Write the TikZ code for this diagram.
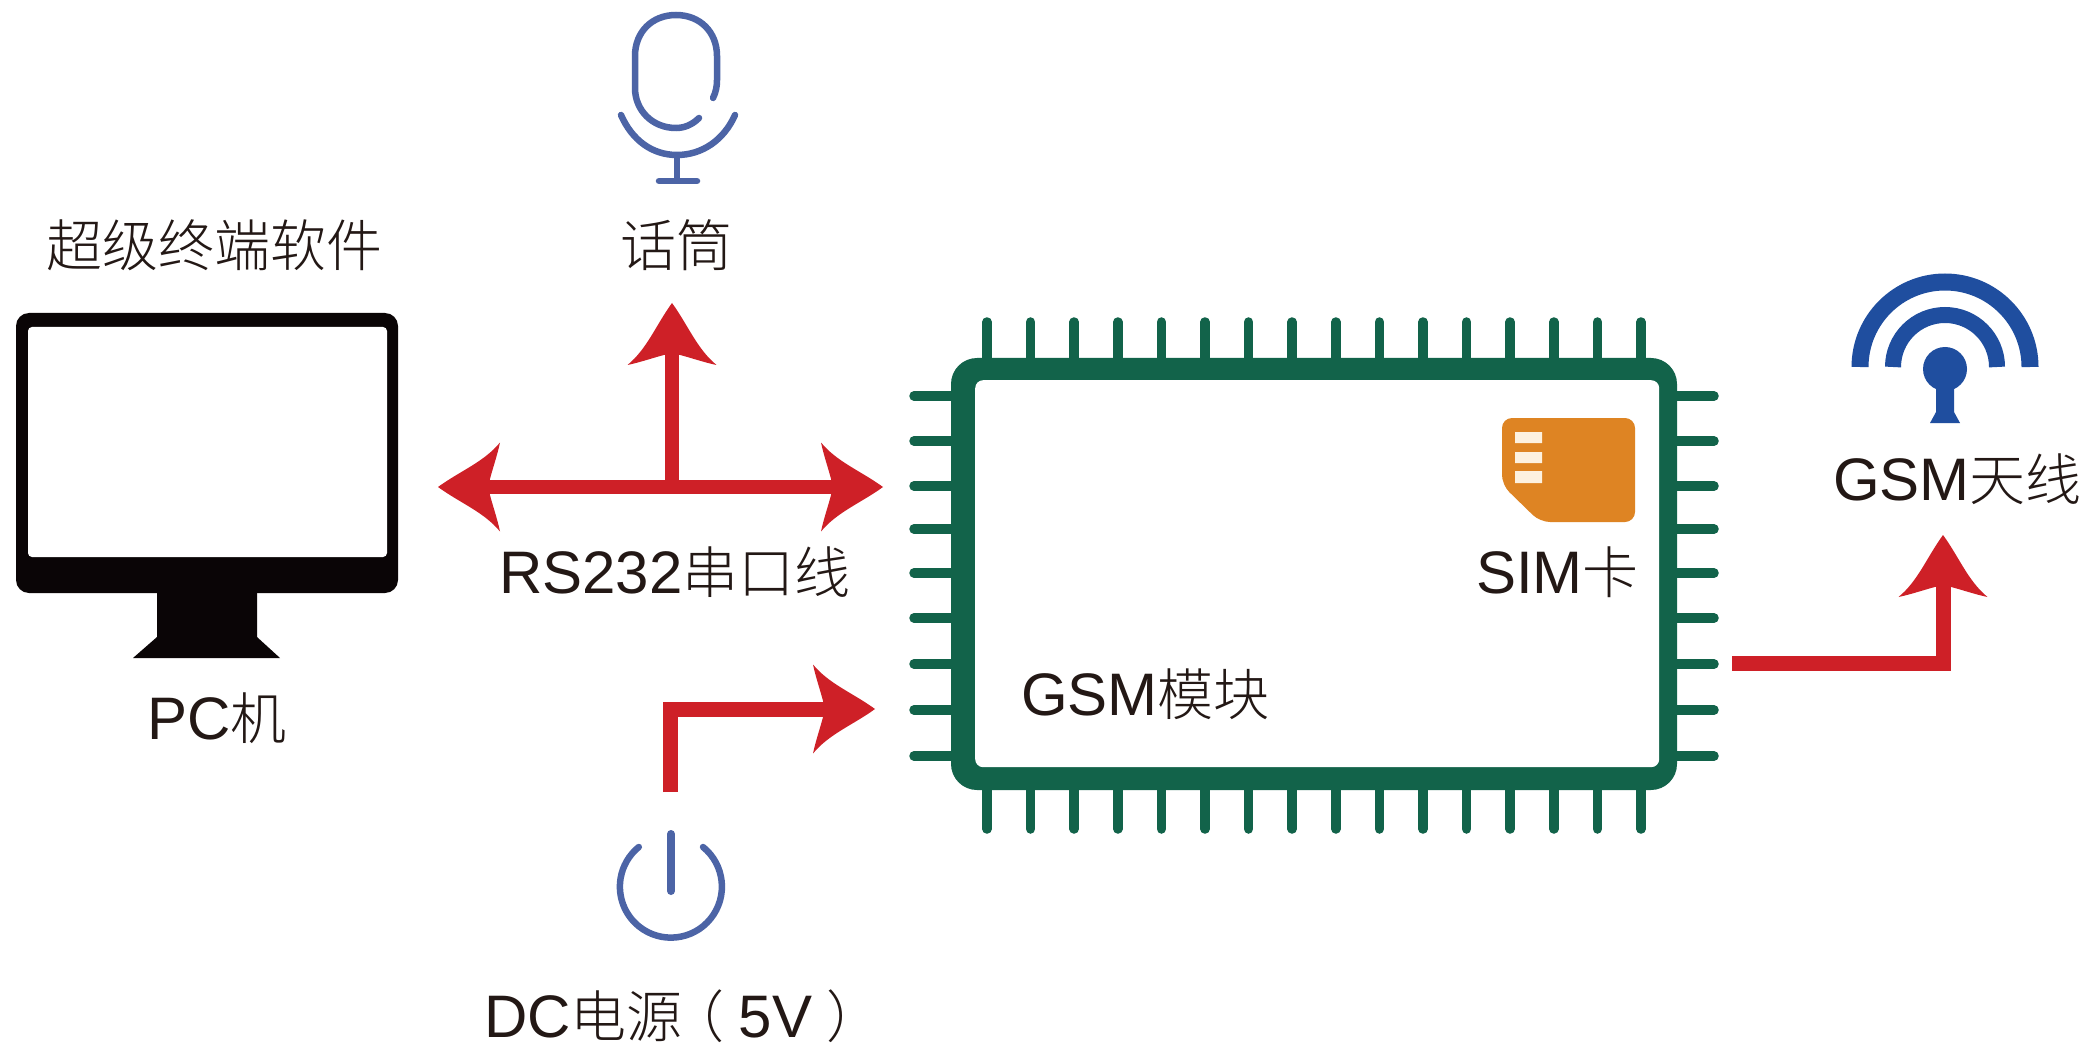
\documentclass[tikz,border=0pt]{standalone}
\usepackage{fontspec}
\setmainfont{Liberation Sans}
\newfontfamily\zh{Noto Sans CJK SC Light}
\definecolor{arrowred}{HTML}{CE2027}
\definecolor{chipgreen}{HTML}{12634A}
\definecolor{iconblue}{HTML}{4C64A6}
\definecolor{antblue}{HTML}{1F4E9F}
\definecolor{simorange}{HTML}{DE8423}
\definecolor{simwhite}{HTML}{FDF1DF}
\definecolor{inkblack}{HTML}{231815}
\definecolor{monblack}{HTML}{0A0506}
\newcommand{\han}[1]{{\zh\fontsize{56}{60}\selectfont #1}}
\tikzset{
  x=1pt,y=-1pt,
  label/.style={anchor=base west,inner sep=0pt,outer sep=0pt,text=inkblack,font=\fontsize{60}{62}\selectfont},
  redline/.style={draw=arrowred,line width=15pt,line cap=butt,line join=miter},
  pin/.style={draw=chipgreen,line width=9.5pt,line cap=round},
  iconline/.style={draw=iconblue,line width=6.5pt,line cap=round},
  redhead/.pic={\fill[arrowred] (0,0) .. controls (-22,-16) and (-46,-25) .. (-62,-44.5)
     .. controls (-59,-30) and (-53,-14) .. (-50,0)
     .. controls (-53,14) and (-59,30) .. (-62,44.5)
     .. controls (-46,25) and (-22,16) .. (0,0) -- cycle;}
}
\begin{document}
\begin{tikzpicture}
\useasboundingbox (0,0) rectangle (2090,1048);
\fill[white] (0,0) rectangle (2090,1048);
% monitor
\fill[monblack,rounded corners=13pt] (16,313) rectangle (398,593);
\fill[monblack] (157,590) -- (257,590) -- (257,637) -- (280,658) -- (133,658) -- (157,637) -- cycle;
\fill[white,rounded corners=4pt] (28,327) rectangle (387,557);
% microphone
\draw[iconline] (699,118) .. controls (692,125) and (684,128) .. (676,128)
  .. controls (652,128) and (635,110) .. (635,88) -- (635,56)
  .. controls (635,32) and (652,15) .. (676,15)
  .. controls (700,15) and (717,32) .. (717,56) -- (717,80)
  .. controls (717,86) and (716,92) .. (713,98);
\draw[iconline] (621,115) .. controls (632,140) and (652,155) .. (677,155) .. controls (702,155) and (724,140) .. (735,115);
\draw[iconline,line cap=butt] (677,155) -- (677,181);
\draw[iconline] (659,181) -- (697,181);
% power icon
\draw[iconline] (703,847) arc[start angle=51,end angle=-231,x radius=51,y radius=-51];
\draw[iconline,line width=8pt] (671,834) -- (671,891);
% chip
\foreach \px in {0,...,15} {
  \draw[pin] ({987+43.6*\px},322) -- ({987+43.6*\px},365);
  \draw[pin] ({987+43.6*\px},785) -- ({987+43.6*\px},829);
}
\foreach \py in {396,441,486,529,573,618,664,710,756} {
  \draw[pin] (914,\py) -- (955,\py);
  \draw[pin] (1670,\py) -- (1714,\py);
}
\fill[chipgreen,rounded corners=26pt] (951,358) rectangle (1677,790);
\node[fill=white,draw=none,rounded corners=8pt,minimum width=684pt,minimum height=387pt,inner sep=0pt,anchor=north west] (chip) at (975,380) {};
% SIM
\fill[simorange,rounded corners=10pt] (1502,418) -- (1635,418) -- (1635,522) -- (1540,522) -- (1502,485) -- cycle;
\fill[simwhite] (1515,432) rectangle (1542,443) (1515,452) rectangle (1542,463) (1515,471) rectangle (1542,483);
% antenna
\draw[antblue,line width=17pt] (1860,367) arc[start angle=180,end angle=0,x radius=85,y radius=-85];
\draw[antblue,line width=16pt] (1893,367) arc[start angle=180,end angle=0,x radius=52,y radius=-52];
\fill[antblue] (1945,369) circle[radius=22];
\fill[antblue] (1936,380) -- (1954,380) -- (1954,412) -- (1960,423) -- (1930,423) -- (1936,412) -- cycle;
% labels
\node[label] (soft) at (46,267) {\han{超级终端软件}};
\node[label] (mic) at (620,267) {\han{话筒}};
\node[label] (rs) at (499,593) {RS232\han{串口线}};
\node[label] (pc) at (147,739) {PC\han{机}};
\node[label] (sim) at (1476,593) {SIM\han{卡}};
\node[label] (gsm) at (1021,715) {GSM\han{模块}};
\node[label] (ant) at (1833,500) {GSM\han{天线}};
\node[label] (dc) at (484,1037) {DC\han{电源\kern-14pt（\kern14pt}5V\han{\kern14pt）}};
% connectors
\coordinate (serialL) at (438,487);
\coordinate (serialR) at (883,487);
\coordinate (serialM) at (672,487);
\coordinate (micTip) at (672,303);
\coordinate (dcStart) at (670,792);
\coordinate (dcBend) at (670,709);
\coordinate (dcTip) at (875,709);
\coordinate (antStart) at (1732,663);
\coordinate (antBend) at (1943,663);
\coordinate (antTip) at (1943,535);
\draw[redline,line width=14pt] ([xshift=30pt]serialL) -- ([xshift=-30pt]serialR);
\draw[redline,line width=14pt] (serialM) -- ([yshift=-30pt]micTip);
\draw[redline] (dcStart) -- (dcBend) -- ([xshift=-30pt]dcTip);
\draw[redline] (antStart) -- (antBend) -- ([yshift=-30pt]antTip);
\pic[rotate=180] at (serialL) {redhead};
\pic at (serialR) {redhead};
\pic[rotate=90] at (micTip) {redhead};
\pic at (dcTip) {redhead};
\pic[rotate=90] at (antTip) {redhead};
\end{tikzpicture}
\end{document}
